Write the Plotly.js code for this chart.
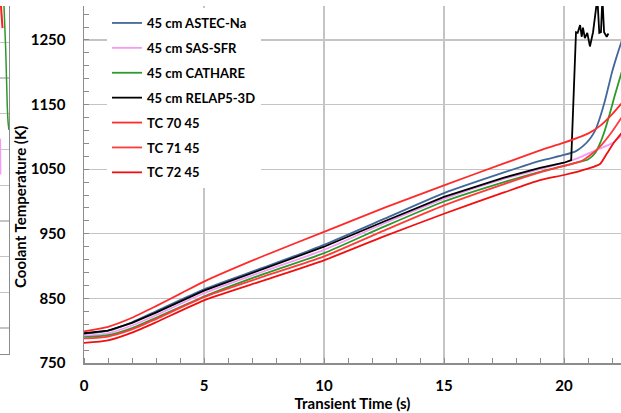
<!DOCTYPE html>
<html>
<head>
<meta charset="utf-8">
<script src="https://cdn.plot.ly/plotly-3.0.1.min.js"></script>
<style>html,body{margin:0;padding:0;background:#fff}#chart{width:621px;height:413px}</style>
</head>
<body>
<div id="chart"></div>
<script>
// ---- data ----
const seriesNames = ["45 cm ASTEC-Na", "45 cm SAS-SFR", "45 cm CATHARE", "45 cm RELAP5-3D", "TC 70 45", "TC 71 45", "TC 72 45"];

const astecT = [0,1,2,3,5,7.5,10,12.5,15,17.5,19,20,20.5,20.8,21.1,21.3,21.5,21.7,21.9,22.0,22.2,22.4];
const astecV = [795,800,813,830,864,898,933,973,1013,1045,1063,1072,1078,1086,1098,1110,1130,1155,1185,1200,1225,1248];

const sasT = [0,1,2,3,5,7.5,10,12.5,15,17.5,19,20,20.5,21,21.5,22,22.4];
const sasV = [792,796,808,824,858,892,925,966,1004,1035,1050,1060,1066,1074,1082,1090,1102];

const cathareT = [0,1,2,3,5,7.5,10,12.5,15,17.5,19,20,20.5,21,21.3,21.5,21.7,21.9,22.1,22.4];
const cathareV = [790,793,804,820,853,888,920,961,1000,1030,1046,1055,1060,1065,1075,1090,1110,1135,1162,1200];

const relapT = [0,1,2,3,5,7.5,10,12.5,15,17.5,19,20,20.3,20.5,20.57,20.67,20.74,20.79,20.87,20.97,21.08,21.21,21.32,21.39,21.47,21.54,21.6,21.67,21.78,21.85];
const relapV = [796,800,812,828,862,896,930,969,1007,1037,1052,1060,1064,1262,1261,1273,1255,1269,1253,1261,1240,1262,1292,1315,1261,1262,1315,1262,1255,1260];

const tc70T = [0,1,2,3,4,5,7.5,10,12.5,15,17.5,19,20,21,21.5,22,22.4];
const tc70V = [799,806,820,838,857,876,916,953,990,1025,1059,1079,1091,1105,1117,1135,1152];

const tc71T = [0,1,2,3,5,7.5,10,12.5,15,17.5,19,20,20.7,21.1,21.5,22,22.4];
const tc71V = [788,791,802,818,852,884,915,955,994,1027,1045,1055,1062,1072,1085,1108,1130];

const tc72T = [0,1,2,3,5,7.5,10,12.5,15,17.5,19,20,21,21.5,21.8,22.1,22.4];
const tc72V = [781,785,797,813,847,878,909,946,981,1014,1033,1041,1051,1058,1075,1092,1106];

// neighbouring panel edge visible at the far left
const edgeGreenX = [3.3,4,5,5.7,6.3,6.8,7.3,7.8,8.3,9];
const edgeGreenY = [9.3,9.0,8.3,7.8,7.2,6.7,6.2,5.9,5.7,5.55];
const edgeRedX = [0.3,1.0,1.8,2.5];
const edgeRedY = [9.3,9.0,8.7,8.4];
const edgePinkX = [0.3,0.6];
const edgePinkY = [5.3,4.3];

const xTicks = [0,5,10,15,20];
const yTicks = [750,850,950,1050,1150,1250];

// ---- styling ----
const colors = ["#41689b", "#f59af5", "#2c9a2c", "#000000", "#ff2b2b", "#ff3a3a", "#f01010"];
const FONT = "Lato, 'Open Sans', 'DejaVu Sans', sans-serif";
const GRID = "#c4c4c4";
const AX = "#8c8c8c";

const xs = [astecT, sasT, cathareT, relapT, tc70T, tc71T, tc72T];
const ys = [astecV, sasV, cathareV, relapV, tc70V, tc71V, tc72V];

const traces = seriesNames.map((n, i) => ({
  type: "scatter", mode: "lines", name: n, x: xs[i], y: ys[i],
  xaxis: "x", yaxis: "y", legendgroup: "g" + i,
  line: {color: colors[i], width: 1.8, shape: i === 3 ? "linear" : "spline", smoothing: 0.6}
}));

traces.push({type:"scatter", mode:"lines", x: edgeGreenX, y: edgeGreenY, xaxis:"x2", yaxis:"y2", showlegend:false, line:{color:"#2c9a2c", width:1.5, shape:"spline"}});
traces.push({type:"scatter", mode:"lines", x: edgeRedX, y: edgeRedY, xaxis:"x2", yaxis:"y2", showlegend:false, line:{color:"#ff2020", width:2}});
traces.push({type:"scatter", mode:"lines", x: edgePinkX, y: edgePinkY, xaxis:"x2", yaxis:"y2", showlegend:false, line:{color:"#f59af5", width:1.5}});

const layout = {
  width: 621, height: 413,
  margin: {l: 0, r: 0, t: 6, b: 50},
  paper_bgcolor: "#ffffff", plot_bgcolor: "#ffffff",
  font: {family: FONT, color: "#000"},
  showlegend: true,
  xaxis: {
    domain: [84/621, 1], range: [0, 22.375], anchor: "y",
    tickvals: xTicks, ticktext: xTicks.map(String),
    showgrid: true, gridcolor: GRID, gridwidth: 1.3,
    showline: true, linecolor: AX, linewidth: 1.5, zeroline: false,
    ticks: "", ticklabelstandoff: 8,
    tickfont: {family: FONT, size: 15, weight: "bold"},
    minor: {dtick: 1, tick0: 0, ticks: "inside", ticklen: 5, tickcolor: AX, tickwidth: 1, showgrid: false},
    title: {text: "Transient Time (s)", font: {family: FONT, size: 15, weight: "bold"}, standoff: 4},
    automargin: false
  },
  yaxis: {
    domain: [0, 1], range: [750, 1302.6], anchor: "x",
    tickvals: yTicks, ticktext: yTicks.map(String),
    showgrid: true, gridcolor: GRID, gridwidth: 1.3,
    showline: true, linecolor: AX, linewidth: 1.5, zeroline: false,
    ticks: "", ticklabelstandoff: 14,
    tickfont: {family: FONT, size: 15, weight: "bold"},
    minor: {dtick: 20, tick0: 750, ticks: "inside", ticklen: 5, tickcolor: AX, tickwidth: 1, showgrid: false},
    automargin: false
  },
  xaxis2: {
    domain: [0, 9/621], range: [0, 9], anchor: "y2",
    showgrid: false, showline: true, linecolor: AX, linewidth: 1.2,
    showticklabels: false, ticks: "", zeroline: false
  },
  yaxis2: {
    domain: [9/357, 1], range: [-0.726, 9.02], anchor: "x2", side: "right",
    dtick: 1, tick0: 0, showgrid: true, gridcolor: GRID, gridwidth: 1.3,
    showline: true, linecolor: AX, linewidth: 1.2,
    showticklabels: false, ticks: "", zeroline: false
  },
  legend: {
    x: 107/621, y: (363-8)/357, xanchor: "left", yanchor: "top",
    bgcolor: "#ffffff", borderwidth: 0,
    font: {family: FONT, size: 13, weight: "bold", color: "#000"},
    traceorder: "grouped", tracegroupgap: 5
  },
  annotations: [{
    text: "Coolant Temperature (K)", xref: "paper", yref: "paper",
    x: 20/621, y: (363-207)/357, xanchor: "center", yanchor: "middle",
    textangle: -90, showarrow: false,
    font: {family: FONT, size: 15, weight: "bold", color: "#000"}
  }]
};

Plotly.newPlot("chart", traces, layout, {displayModeBar: false, staticPlot: true});
</script>
</body>
</html>
